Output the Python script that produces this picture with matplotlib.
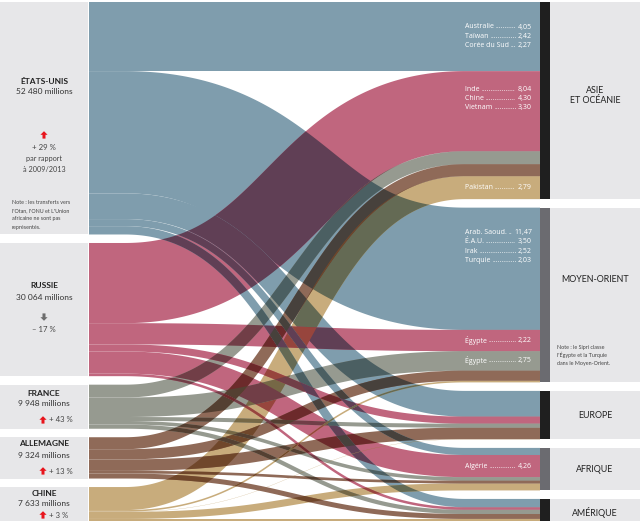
import matplotlib
matplotlib.use("Agg")
import numpy as np
import matplotlib.pyplot as plt
from matplotlib.path import Path
from matplotlib.patches import PathPatch, Rectangle, Polygon
from matplotlib.colors import to_rgb

# ---------------- data ----------------
exporters = ["ÉTATS-UNIS", "RUSSIE", "FRANCE", "ALLEMAGNE", "CHINE"]
exporter_amounts = ["52 480 millions", "30 064 millions", "9 948 millions",
                    "9 324 millions", "7 633 millions"]
exporter_changes = ["+ 29 %", "– 17 %", "+ 43 %", "+ 13 %", "+ 3 %"]
exporter_up = [True, False, True, True, True]
regions = ["ASIE\nET OCÉANIE", "MOYEN-ORIENT", "EUROPE", "AFRIQUE", "AMÉRIQUE"]

# flows in billions of dollars (exporter -> region: Asie, Moyen-Orient, Europe, Afrique, Amérique)
us_flows = [15.6, 27.6, 5.8, 1.6, 1.88]
russia_flows = [18.1, 4.8, 1.6, 5.0, 0.564]
france_flows = [2.9, 4.4, 0.9, 0.8, 0.948]
germany_flows = [2.7, 2.3, 2.6, 0.6, 1.124]
china_flows = [5.2, 0.35, 0.05, 1.6, 0.433]
flows = [us_flows, russia_flows, france_flows, germany_flows, china_flows]

# country details written on the flows: (exporter, region, [(client, value)])
flow_labels = [
    (0, 0, [("Australie", "4,05"), ("Taïwan", "2,42"), ("Corée du Sud", "2,27")]),
    (1, 0, [("Inde", "8,04"), ("Chine", "4,30"), ("Vietnam", "3,30")]),
    (4, 0, [("Pakistan", "2,79")]),
    (0, 1, [("Arab. Saoud.", "11,47"), ("É.A.U.", "3,50"), ("Irak", "2,52"), ("Turquie", "2,03")]),
    (1, 1, [("Égypte", "2,22")]),
    (2, 1, [("Égypte", "2,75")]),
    (1, 3, [("Algérie", "4,26")]),
]

# ---------------- style ----------------
colors = ["#7f9dad", "#c0667e", "#969a90", "#8f6a58", "#c8ac7c"]
bar_colors = ["#1f1f1f", "#6b6b70", "#1f1f1f", "#6b6b70", "#1f1f1f"]
panel = "#e7e7e9"
scale = 4.43      # px per billion
gap = 8.5
top0 = 2
x_left, x_right = 89, 540
xa, xb = 125, 465

plt.rcParams["font.family"] = ["Lato", "DejaVu Sans"]
fig = plt.figure(figsize=(6.4, 5.23), dpi=100)
ax = fig.add_axes([0, 0, 1, 1])
ax.set_xlim(0, 640)
ax.set_ylim(523, 0)
ax.axis("off")

n_src, n_dst = len(exporters), len(regions)
src_tot = [sum(f) for f in flows]
dst_tot = [sum(flows[i][j] for i in range(n_src)) for j in range(n_dst)]

src_top, y = [], top0
for t in src_tot:
    src_top.append(y); y += t * scale + gap
dst_top, y = [], top0
for t in dst_tot:
    dst_top.append(y); y += t * scale + gap

seg_src = {}
for i in range(n_src):
    y = src_top[i]
    for j in range(n_dst):
        h = flows[i][j] * scale
        seg_src[(i, j)] = (y, y + h); y += h
seg_dst = {}
for j in range(n_dst):
    y = dst_top[j]
    for i in range(n_src):
        h = flows[i][j] * scale
        seg_dst[(i, j)] = (y, y + h); y += h

for i in range(n_src):
    ax.add_patch(Rectangle((0, src_top[i]), 88, src_tot[i] * scale, color=panel, lw=0, zorder=1))
for j in range(n_dst):
    ax.add_patch(Rectangle((550, dst_top[j]), 90, dst_tot[j] * scale, color=panel, lw=0, zorder=1))
    ax.add_patch(Rectangle((x_right, dst_top[j]), 10, dst_tot[j] * scale,
                           color=bar_colors[j], lw=0, zorder=5))


def monotone(pts):
    out = [pts[0]]
    for p in pts[1:]:
        if p[0] > out[-1][0]:
            out.append(p)
    return out


def flow_path(s0, s1, t0, t1):
    """Ribbon of constant perpendicular thickness around a horizontal-tangent bezier."""
    w = s1 - s0
    ys, yt = (s0 + s1) / 2, (t0 + t1) / 2
    xm = (xa + xb) / 2
    t = np.linspace(0, 1, 240)
    P0, P1, P2, P3 = np.array([xa, ys]), np.array([xm, ys]), np.array([xm, yt]), np.array([xb, yt])
    pts = ((1 - t) ** 3)[:, None] * P0 + (3 * (1 - t) ** 2 * t)[:, None] * P1 + \
          (3 * (1 - t) * t ** 2)[:, None] * P2 + (t ** 3)[:, None] * P3
    d = (3 * (1 - t) ** 2)[:, None] * (P1 - P0) + (6 * (1 - t) * t)[:, None] * (P2 - P1) + \
        (3 * t ** 2)[:, None] * (P3 - P2)
    nrm = np.stack([-d[:, 1], d[:, 0]], axis=1)
    nrm /= np.linalg.norm(nrm, axis=1)[:, None]
    upper = pts - nrm * w / 2
    lower = pts + nrm * w / 2
    upper = monotone([tuple(p) for p in upper])
    lower = monotone([tuple(p) for p in lower])
    verts = [(x_left, s0)] + upper + [(x_right, t0), (x_right, t1)] + lower[::-1] + [(x_left, s1)]
    return Path(np.array(verts + [verts[0]]), closed=True)


def mult(c1, c2):
    a, b = to_rgb(c1), to_rgb(c2)
    return tuple(p * q for p, q in zip(a, b))

drawn = []
order = [(i, j) for j in range(n_dst) for i in range(n_src)]
order = sorted(order, key=lambda k: -flows[k[0]][k[1]])
for (i, j) in order:
    if flows[i][j] <= 0:
        continue
    s0, s1 = seg_src[(i, j)]
    t0, t1 = seg_dst[(i, j)]
    p = flow_path(s0, s1, t0, t1)
    base = PathPatch(p, facecolor=colors[i], edgecolor="none", lw=0, zorder=2)
    ax.add_patch(base)
    for (pj, ci) in drawn:
        if ci == i:
            continue
        ov = PathPatch(p, facecolor=mult(colors[i], colors[ci]), edgecolor="none", lw=0, zorder=2)
        ax.add_patch(ov)
        ov.set_clip_path(pj)
    drawn.append((base, i))

# ---------------- left labels ----------------
dark = "#222222"


def draw_arrow(cx, cy, up, color):
    s = 1 if up else -1
    hw, sw = 3.6, 1.5
    pts = [(cx, cy - s * 3.8), (cx + hw, cy - s * 0.2), (cx + sw, cy - s * 0.2),
           (cx + sw, cy + s * 3.6), (cx - sw, cy + s * 3.6), (cx - sw, cy - s * 0.2),
           (cx - hw, cy - s * 0.2)]
    ax.add_patch(Polygon(pts, closed=True, facecolor=color, edgecolor="none", zorder=6))


lay = [
    dict(name=81, amt=91, arrow=135, chg=147, inline=False),
    dict(name=286, amt=297, arrow=317, chg=330, inline=False),
    dict(name=394, amt=404, arrow=420, chg=420, inline=True),
    dict(name=443, amt=455, arrow=471, chg=471, inline=True),
    dict(name=494, amt=504, arrow=515, chg=515, inline=True),
]
for i in range(n_src):
    L = lay[i]
    ax.text(44, L["name"], exporters[i], ha="center", va="center", fontsize=6,
            fontweight="bold", color=dark, zorder=6)
    ax.text(44, L["amt"], exporter_amounts[i], ha="center", va="center", fontsize=6,
            color="#333333", zorder=6)
    acol = "#e8141c" if exporter_up[i] else "#6d6d6d"
    if L["inline"]:
        draw_arrow(43, L["arrow"], exporter_up[i], acol)
        ax.text(49, L["chg"], exporter_changes[i], ha="left", va="center", fontsize=5.6,
                color="#444444", zorder=6)
    else:
        draw_arrow(44, L["arrow"], exporter_up[i], acol)
        ax.text(44, L["chg"], exporter_changes[i], ha="center", va="center", fontsize=5.6,
                color="#444444", zorder=6)

ax.text(44, 159, "par rapport", ha="center", va="center", fontsize=5.2, color="#444444", zorder=6)
ax.text(44, 170, "à 2009/2013", ha="center", va="center", fontsize=5.2, color="#444444", zorder=6)
for k, line in enumerate(["Note : les transferts vers", "l'Otan, l'ONU et L'Union",
                          "africaine ne sont pas", "représentés."]):
    ax.text(12, 202 + k * 8.4, line, ha="left", va="center", fontsize=3.9,
            color="#444444", zorder=6)

# ---------------- right labels ----------------
rlab_y = [95.5, 280, 415, 469, 512]
for j in range(n_dst):
    ax.text(595, rlab_y[j], regions[j], ha="center", va="center", fontsize=6.4,
            color=dark, linespacing=1.25, zorder=6)
for k, line in enumerate(["Note : le Sipri classe", "l'Égypte et la Turquie",
                          "dans le Moyen-Orient."]):
    ax.text(557, 347 + k * 8.2, line, ha="left", va="center", fontsize=3.9,
            color="#444444", zorder=6)

# ---------------- flow labels ----------------
fig.canvas.draw()
renderer = fig.canvas.get_renderer()
inv = ax.transData.inverted()
xl, xr = 465, 532
fs = 5.0
lf = ["Open Sans", "DejaVu Sans"]
for (i, j, items) in flow_labels:
    t0, t1 = seg_dst[(i, j)]
    if len(items) == 1:
        y0 = (t0 + t1) / 2
    else:
        y0 = t0 + (25 if i == 0 else 18)
    for k, (nm, val) in enumerate(items):
        yy = y0 + k * 9.2
        tn = ax.text(xl, yy, nm + " ", ha="left", va="center", fontsize=fs, color="white",
                     family=lf, zorder=6)
        tv = ax.text(xr, yy, val, ha="right", va="center", fontsize=fs, color="white",
                     family=lf, zorder=6)
        bn = tn.get_window_extent(renderer)
        bv = tv.get_window_extent(renderer)
        td = ax.text(0, 0, ".", fontsize=fs, family=lf)
        dw = td.get_window_extent(renderer).width
        td.remove()
        ndots = max(2, int((bv.x0 - bn.x1 - 1) / dw))
        xd = inv.transform((bn.x1, 0))[0]
        ax.text(xd, yy, "." * ndots, ha="left", va="center", fontsize=fs, color="white",
                family=lf, zorder=6)

fig.savefig("out.png", dpi=100)
